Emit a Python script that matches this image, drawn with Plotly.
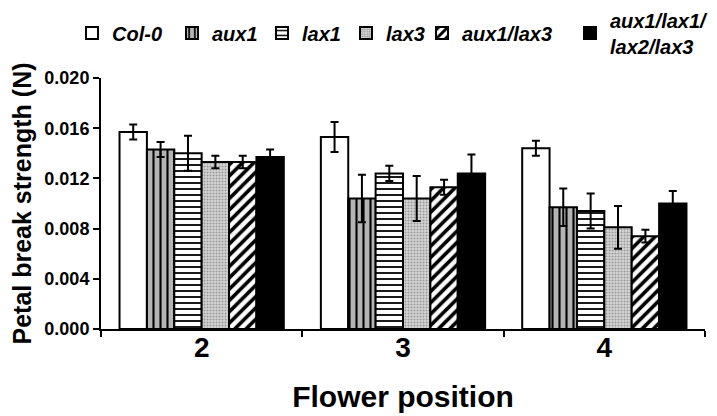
import plotly.graph_objects as go

positions = ["2", "3", "4"]
genotypes = ["Col-0", "aux1", "lax1", "lax3", "aux1/lax3", "aux1/lax1/<br>lax2/lax3"]

values = {
    "Col-0":     [0.0157, 0.0153, 0.0144],
    "aux1":      [0.0143, 0.0104, 0.0097],
    "lax1":      [0.0140, 0.0124, 0.0094],
    "lax3":      [0.0133, 0.0104, 0.0081],
    "aux1/lax3": [0.0133, 0.0113, 0.0074],
    "quad":      [0.0137, 0.0124, 0.0100],
}
errors = {
    "Col-0":     [0.0006, 0.0012, 0.0006],
    "aux1":      [0.0006, 0.0019, 0.0015],
    "lax1":      [0.0014, 0.0006, 0.0014],
    "lax3":      [0.0005, 0.0018, 0.0017],
    "aux1/lax3": [0.0005, 0.0006, 0.0005],
    "quad":      [0.0006, 0.0015, 0.0010],
}
keys = ["Col-0", "aux1", "lax1", "lax3", "aux1/lax3", "quad"]

styles = [
    dict(color="white", pattern=dict(shape="")),
    dict(color="#b4b4b4", pattern=dict(shape="|", fgcolor="black", bgcolor="#b4b4b4", size=7, solidity=0.3, fillmode="replace")),
    dict(color="white", pattern=dict(shape="-", fgcolor="black", bgcolor="white", size=6, solidity=0.3, fillmode="replace")),
    dict(color="#d2d2d2", pattern=dict(shape=".", fgcolor="#9a9a9a", bgcolor="#d6d6d6", size=3, solidity=0.4, fillmode="replace")),
    dict(color="white", pattern=dict(shape="/", fgcolor="black", bgcolor="white", size=8, solidity=0.45, fillmode="replace")),
    dict(color="black", pattern=dict(shape="")),
]

# legend text left edges (px) for each entry, one legend per entry
legend_text_x = [112, 212, 302, 386, 462, 610]
legend_names = ["legend", "legend2", "legend3", "legend4", "legend5", "legend6"]

font_family = "Liberation Sans, Arial, sans-serif"
legend_font = dict(size=20, family=font_family, weight="bold", style="italic")

fig = go.Figure()
for k, name, st, lg in zip(keys, genotypes, styles, legend_names):
    fig.add_trace(go.Bar(
        x=positions, y=values[k], name=name, legend=lg,
        marker=dict(color=st["color"], pattern=st["pattern"], line=dict(color="black", width=2)),
        error_y=dict(type="data", array=errors[k], visible=True, color="black", thickness=2, width=4),
    ))

W, H = 717, 416
legend_layouts = {}
for lg, tx in zip(legend_names, legend_text_x):
    legend_layouts[lg] = dict(
        orientation="h", xref="container", yref="container",
        x=(tx - 48) / W, y=1 - 25 / H, xanchor="left", yanchor="middle",
        font=legend_font, itemclick=False, bgcolor="rgba(0,0,0,0)",
    )

fig.update_layout(
    width=W, height=H,
    margin=dict(l=93, r=20, t=70, b=95, autoexpand=False),
    plot_bgcolor="white", paper_bgcolor="white",
    barmode="group", bargap=0.184, bargroupgap=0,
    font=dict(family=font_family, color="black"),
    showlegend=True,
    xaxis=dict(
        showline=True, linecolor="black", linewidth=2,
        ticks="outside", tickson="boundaries", ticklen=6, tickwidth=2, tickcolor="black",
        tickfont=dict(size=28, family=font_family, weight="bold"),
        ticklabelstandoff=-8,
        title=dict(text="Flower position", font=dict(size=30, family=font_family, weight="bold"), standoff=24),
        showgrid=False,
    ),
    yaxis=dict(
        range=[0, 0.020], dtick=0.004, tickformat=".3f",
        showline=True, linecolor="black", linewidth=2,
        ticks="outside", ticklen=6, tickwidth=2, tickcolor="black",
        tickfont=dict(size=18, family=font_family, weight="bold"),
        title=dict(text="Petal break strength (N)", font=dict(size=25, family=font_family, weight="bold"), standoff=18),
        showgrid=False, zeroline=False,
    ),
    **legend_layouts,
)

fig.write_html("out.html")
